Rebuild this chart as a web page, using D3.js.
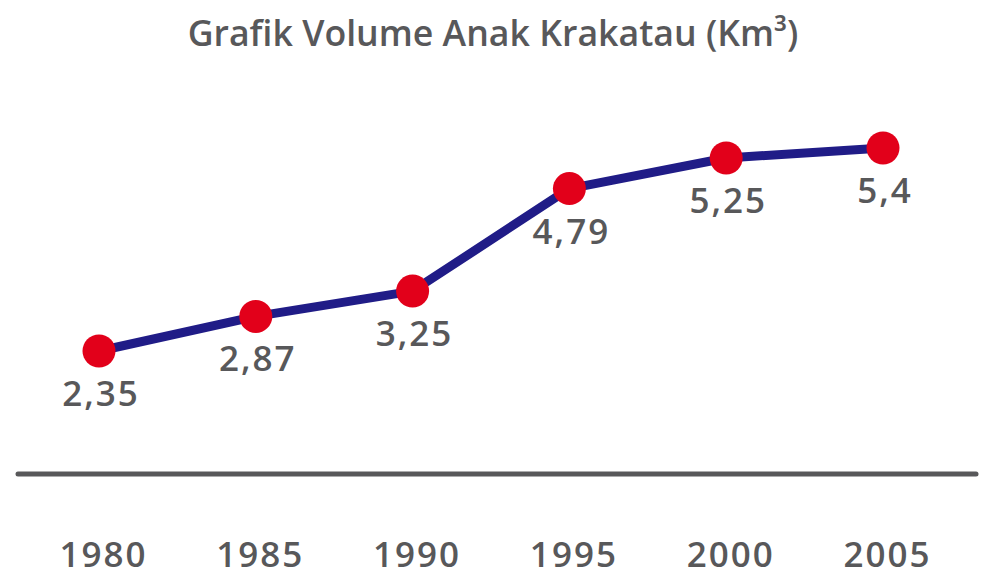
<!DOCTYPE html>
<html><head><meta charset="utf-8">
<script src="https://cdn.jsdelivr.net/npm/d3@7"></script>
<style>html,body{margin:0;padding:0;background:#fff;}svg{display:block;}</style>
</head><body>
<svg id="c" width="1008" height="585"></svg>
<script>
const years = [1980, 1985, 1990, 1995, 2000, 2005];
const volumes = [2.35, 2.87, 3.25, 4.79, 5.25, 5.4];
const valueLabels = ["2,35", "2,87", "3,25", "4,79", "5,25", "5,4"];
const title = "Grafik Volume Anak Krakatau (Km³)";

const svg = d3.select("#c");
const grey = "#58585a";
const font = "'Open Sans', 'Noto Sans', sans-serif";

const x = d3.scalePoint().domain(years).range([99, 883]);
const y = d3.scaleLinear().domain([2.35, 5.4]).range([351, 148]);

// title
const t = svg.append("text")
  .attr("x", 493).attr("y", 46)
  .attr("text-anchor", "middle")
  .attr("font-family", font).attr("font-weight", 600)
  .attr("font-size", 36).attr("fill", grey)
  .text(title);
const w = t.node().getComputedTextLength();
t.attr("font-size", 36 * 611 / w);

// baseline axis
svg.append("line")
  .attr("x1", 18).attr("x2", 976).attr("y1", 474).attr("y2", 474)
  .attr("stroke", grey).attr("stroke-width", 5).attr("stroke-linecap", "round");

// x axis labels
const xAxis = d3.axisBottom(x).tickSize(0).tickPadding(0);
const ax = svg.append("g").attr("transform", "translate(4,542)").call(xAxis);
ax.select(".domain").remove();
ax.selectAll("text")
  .attr("font-family", font).attr("font-weight", 600)
  .attr("font-size", 35).attr("letter-spacing", 2).attr("fill", grey).attr("dy", "0.71em");

const data = years.map((yr, i) => ({yr, v: volumes[i], lab: valueLabels[i]}));

svg.append("path").datum(data)
  .attr("fill", "none").attr("stroke", "#201c87").attr("stroke-width", 9)
  .attr("stroke-linejoin", "round")
  .attr("d", d3.line().x(d => x(d.yr)).y(d => y(d.v)));

svg.selectAll("circle.pt").data(data).join("circle")
  .attr("class", "pt")
  .attr("cx", d => x(d.yr)).attr("cy", d => y(d.v)).attr("r", 16.5)
  .attr("fill", "#e2001a");

svg.selectAll("text.val").data(data).join("text")
  .attr("class", "val")
  .attr("x", d => x(d.yr) + 2).attr("y", d => y(d.v) + 55)
  .attr("text-anchor", "middle")
  .attr("font-family", font).attr("font-weight", 600)
  .attr("font-size", 35).attr("letter-spacing", 2).attr("fill", grey)
  .text(d => d.lab);
</script>
</body></html>
